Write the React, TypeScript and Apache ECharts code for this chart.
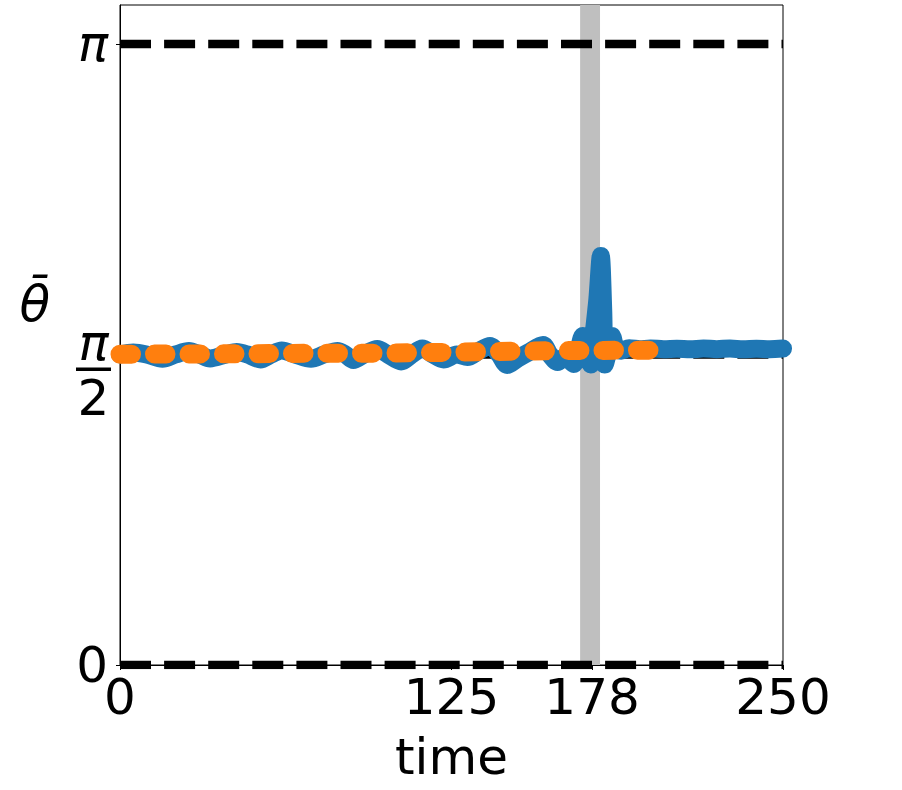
import React, { useEffect, useRef } from "react";
import * as echarts from "echarts";

const PI = Math.PI;

// time axis
const timeMin = 0;
const timeMax = 250;
const xTickValues = [0, 125, 178, 250];

// y axis
const yMin = 0;
const yMax = 3.339;
const yTickValues = [0, PI / 2, PI];
const refLevels = [0, PI / 2, PI];

// highlighted interval
const bandStart = 173.5;
const bandEnd = 181;

// blue series (theta bar, solid)
const blueTime = [
  0, 5, 10, 16, 21, 26, 30, 34, 40, 44, 48, 53, 57, 61, 66, 72, 77, 82, 85, 88,
  92, 97, 101, 106, 110, 114, 118, 122, 127, 131, 135, 139.5, 143, 146, 150, 154,
  159.5, 162, 165, 168, 171, 173, 174.5, 176, 177.5, 178.5, 180, 181.3, 182.2,
  182.8, 184, 185.5, 187, 189, 192, 196, 200, 205, 210, 215, 220, 225, 230, 235,
  240, 245, 250,
];
const blueTheta = [
  1.571, 1.581, 1.571, 1.549, 1.571, 1.588, 1.571, 1.551, 1.571, 1.583, 1.571,
  1.546, 1.571, 1.591, 1.571, 1.549, 1.571, 1.589, 1.571, 1.543, 1.571, 1.599,
  1.571, 1.536, 1.571, 1.601, 1.571, 1.546, 1.571, 1.558, 1.586, 1.614, 1.571,
  1.518, 1.551, 1.581, 1.619, 1.571, 1.533, 1.561, 1.523, 1.6, 1.665, 1.6, 1.52,
  1.66, 1.85, 2.069, 1.8, 1.52, 1.58, 1.665, 1.6, 1.59, 1.603, 1.597, 1.601,
  1.598, 1.6, 1.597, 1.601, 1.598, 1.601, 1.597, 1.6, 1.598, 1.601,
];

// orange series (dotted)
const orangeTime = [
  0, 12.5, 25, 37.5, 50, 62.5, 75, 87.5, 100, 112.5, 125, 137.5, 150, 162.5, 175,
  187.5, 202,
];
const orangeTheta = [
  1.572, 1.573, 1.574, 1.574, 1.575, 1.576, 1.577, 1.577, 1.578, 1.58, 1.582,
  1.585, 1.588, 1.59, 1.591, 1.592, 1.593,
];

const FONT = "DejaVu Sans";

export default function App() {
  const ref = useRef<HTMLDivElement>(null);

  useEffect(() => {
    if (!ref.current) return;
    const chart = echarts.init(ref.current, null, { renderer: "svg" });

    const pair = (xs: number[], ys: number[]) => xs.map((x, i) => [x, ys[i]]);

    const refSeries = refLevels.map((lv) => ({
      type: "line",
      data: [
        [timeMin, lv],
        [timeMax, lv],
      ],
      symbol: "none",
      silent: true,
      z: 2,
      lineStyle: { color: "#000", width: 8.3, type: [31, 13.1], cap: "butt" },
    }));

    const option: any = {
      animation: false,
      textStyle: { fontFamily: FONT },
      grid: {
        left: 120,
        top: 5,
        width: 663,
        height: 660,
        show: true,
        borderColor: "#000",
        borderWidth: 1,
        backgroundColor: "transparent",
      },
      xAxis: {
        type: "value",
        min: timeMin,
        max: timeMax,
        name: "time",
        nameLocation: "middle",
        nameGap: 67,
        nameTextStyle: { fontSize: 50, color: "#000", fontFamily: FONT },
        axisLine: { show: true, onZero: false, lineStyle: { color: "#000", width: 1 } },
        axisTick: {
          show: true,
          length: 5,
          customValues: xTickValues,
          lineStyle: { color: "#000", width: 1 },
        },
        axisLabel: {
          customValues: xTickValues,
          fontSize: 50,
          color: "#000",
          fontFamily: FONT,
          margin: 7,
          formatter: (v: number) => String(Math.round(v)),
        },
        splitLine: { show: false },
      },
      yAxis: {
        type: "value",
        min: yMin,
        max: yMax,
        name: "\u03B8\u0304",
        nameLocation: "middle",
        nameRotate: 0,
        nameGap: 70,
        nameTextStyle: {
          fontSize: 50,
          color: "#000",
          fontFamily: FONT,
          fontStyle: "italic",
          verticalAlign: "bottom",
          padding: [0, 0, 6, 0],
        },
        axisLine: { show: true, onZero: false, lineStyle: { color: "#000", width: 1 } },
        axisTick: {
          show: true,
          length: 4,
          customValues: yTickValues,
          lineStyle: { color: "#000", width: 1 },
        },
        axisLabel: {
          customValues: yTickValues,
          color: "#000",
          fontFamily: FONT,
          fontSize: 50,
          margin: 12,
          formatter: (v: number) => {
            if (Math.abs(v) < 1e-6) return "0";
            if (Math.abs(v - PI) < 1e-6) return "{p|\u03C0}";
            return ""; // pi/2 drawn as a fraction below
          },
          rich: {
            p: { fontSize: 50, fontFamily: FONT, fontStyle: "italic", color: "#000" },
          },
        },
        splitLine: { show: false },
      },
      series: [
        {
          type: "line",
          data: [[timeMin, yMin]],
          symbol: "none",
          silent: true,
          z: 0,
          lineStyle: { width: 0, opacity: 0 },
          markArea: {
            silent: true,
            itemStyle: { color: "#bfbfbf" },
            data: [[{ xAxis: bandStart }, { xAxis: bandEnd }]],
          },
        },
        ...refSeries,
        {
          type: "line",
          data: pair(blueTime, blueTheta),
          symbol: "none",
          smooth: 0.3,
          z: 3,
          lineStyle: { color: "#1f77b4", width: 18, cap: "round", join: "round" },
        },
        {
          type: "line",
          data: pair(orangeTime, orangeTheta),
          symbol: "none",
          z: 4,
          lineStyle: {
            color: "#ff7f0e",
            width: 19,
            type: [11.5, 23],
            cap: "round",
            join: "round",
          },
        },
      ],
    };

    chart.setOption(option);

    // fraction label pi/2 placed at the library-computed tick position
    const py = chart.convertToPixel({ yAxisIndex: 0 }, PI / 2) as number;
    const ax = chart.convertToPixel({ xAxisIndex: 0 }, timeMin) as number;
    const cx = ax - 26.5;
    chart.setOption({
      graphic: [
        {
          type: "text",
          x: cx,
          y: py - 11.5,
          style: {
            text: "\u03C0",
            font: `italic 50px '${FONT}'`,
            fill: "#000",
            align: "center",
            verticalAlign: "middle",
          },
        },
        {
          type: "rect",
          shape: { x: cx - 17.5, y: py + 13, width: 35, height: 3.5 },
          style: { fill: "#000" },
        },
        {
          type: "text",
          x: cx,
          y: py + 43.5,
          style: {
            text: "2",
            font: `50px '${FONT}'`,
            fill: "#000",
            align: "center",
            verticalAlign: "middle",
          },
        },
      ],
    });

    return () => chart.dispose();
  }, []);

  return (
    <div
      ref={ref}
      style={{ position: "absolute", left: 0, top: 0, width: 902, height: 790, background: "#fff" }}
    />
  );
}
